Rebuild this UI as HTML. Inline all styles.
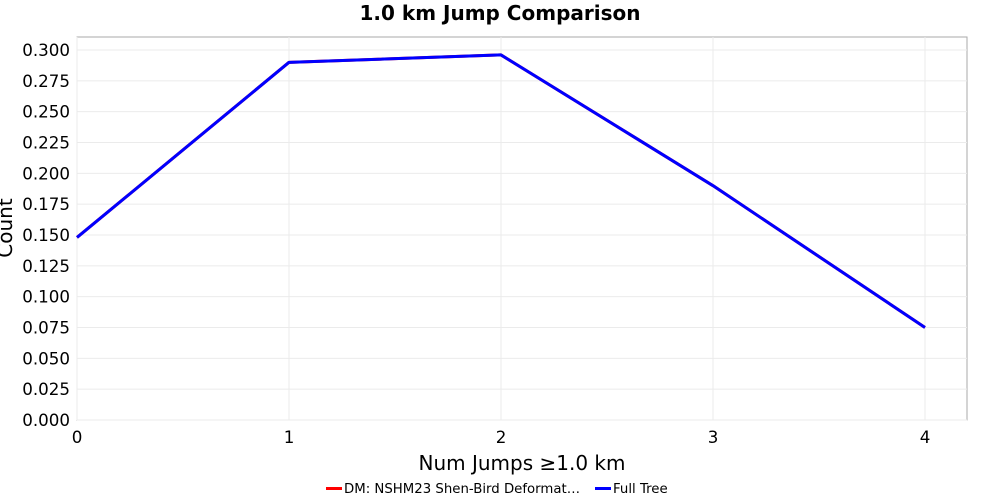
<!DOCTYPE html>
<html><head><meta charset="utf-8"><style>
body{margin:0;background:#fff;}
svg{display:block;font-family:"DejaVu Sans","Liberation Sans",sans-serif;}
</style></head><body>
<svg id="chart" width="1000" height="500">
<text x="500" y="20" text-anchor="middle" font-size="20" font-weight="bold">1.0 km Jump Comparison</text>
<rect x="77" y="37" width="890" height="383" fill="#fff" stroke="#aaa"/>
<g id="grid"></g><g id="ticks"></g><g id="series"></g>
<text x="522" y="470" text-anchor="middle" font-size="20">Num Jumps ≥1.0 km</text>
<text transform="translate(12,228) rotate(-90)" text-anchor="middle" font-size="20">Count</text>
<g>
<g><rect x="326" y="487" width="16" height="3" fill="#f00"/><text x="344" y="493" font-size="13.3">DM: NSHM23 Shen-Bird Deformat…</text></g>
<g><rect x="595" y="487" width="16" height="3" fill="#00f"/><text x="613" y="493" font-size="13.3">Full Tree</text></g>
</g>
</svg>
<script>
const categories=[0,1,2,3,4];
const dmValues=[0.148,0.290,0.296,0.190,0.075];
const fullTreeValues=[0.148,0.290,0.296,0.190,0.075];
const yTicks=[0,0.025,0.05,0.075,0.1,0.125,0.15,0.175,0.2,0.225,0.25,0.275,0.3];
const xTicks=[0,1,2,3,4];
const NS="http://www.w3.org/2000/svg";
const X=v=>77+v*212;
const Y=v=>420-v*(370/0.3);
function mk(t,a,p){const e=document.createElementNS(NS,t);for(const k in a)e.setAttribute(k,a[k]);p.appendChild(e);return e;}
const grid=document.getElementById('grid'),ticks=document.getElementById('ticks'),series=document.getElementById('series');
yTicks.forEach(v=>{
 const l=mk('line',{x1:77,x2:967,y1:Y(v),y2:Y(v),stroke:'#ebebeb'},grid);
 
 
 const t=mk('text',{x:70,y:Y(v)+6,'text-anchor':'end','font-size':16.7},ticks);
 t.textContent=v.toFixed(3);
 
 
});
xTicks.forEach(v=>{
 const l=mk('line',{x1:X(v),x2:X(v),y1:37,y2:420,stroke:'#ebebeb'},grid);
 
 
 const t=mk('text',{x:X(v),y:443,'text-anchor':'middle','font-size':16.7},ticks);
 t.textContent=v;
 
 
});
function line(vals,color,name){
 const p=mk('polyline',{points:categories.map((c,i)=>X(c)+','+Y(vals[i])).join(' '),fill:'none',stroke:color,'stroke-width':3,'stroke-linejoin':'round'},series);
 
 
}
line(dmValues,'#f00','dm-series-line');
line(fullTreeValues,'#00f','full-tree-series-line');
</script>
</body></html>
